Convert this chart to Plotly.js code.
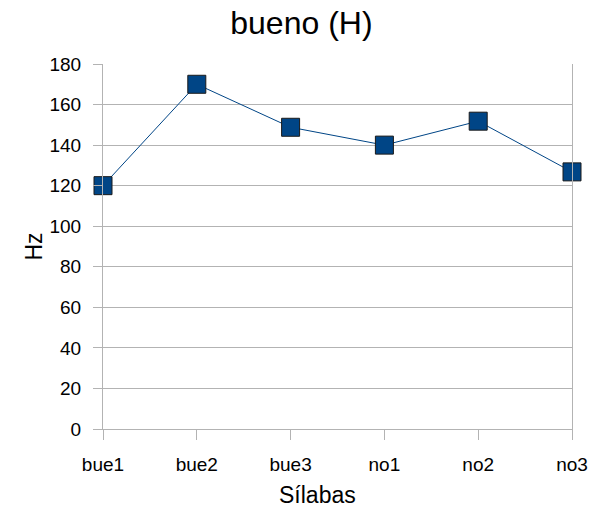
<!DOCTYPE html>
<html><head><meta charset="utf-8">
<script src="https://cdn.plot.ly/plotly-3.0.1.min.js"></script>
<style>body{margin:0;background:#fff}#c{width:591px;height:508px}</style>
</head><body><div id="c"></div>
<script>
const categories = ["bue1","bue2","bue3","no1","no2","no3"];
const hzValues = [120, 170, 148.8, 140, 151.8, 126.8];
const yTicks = [0,20,40,60,80,100,120,140,160,180];
const xTitle = "Sílabas";

const font = "Liberation Sans, Arial, sans-serif";
Plotly.newPlot("c", [{
  x: categories, y: hzValues, type: "scatter", mode: "lines+markers",
  line: {color: "#004586", width: 1},
  marker: {symbol: "square", size: 18, color: "#004586", line: {color: "#1a1a1a", width: 1}},
  cliponaxis: false, hoverinfo: "none"
}], {
  width: 591, height: 508,
  margin: {l: 103, r: 19, t: 64, b: 79},
  paper_bgcolor: "#fff", plot_bgcolor: "#fff",
  showlegend: false,
  font: {family: font, color: "#000"},
  title: {text: "bueno (H)", font: {size: 32, family: font}, x: 0.51, xanchor: "center", y: 0.955, yanchor: "middle"},
  xaxis: {
    type: "category", range: [0, 5], showgrid: false, zeroline: false,
    showline: true, linecolor: "#b3b3b3", linewidth: 1,
    ticks: "outside", ticklen: 10, tickcolor: "#b3b3b3",
    tickfont: {size: 19}, ticklabelstandoff: 8
  },
  yaxis: {
    range: [0, 180], tickvals: yTicks, showgrid: true, gridcolor: "#b3b3b3",
    zeroline: false, showline: true, mirror: true, linecolor: "#b3b3b3", linewidth: 1,
    ticks: "outside", ticklen: 9, tickcolor: "#b3b3b3",
    tickfont: {size: 19}, ticklabelstandoff: 8,
    title: {text: "Hz", font: {size: 23}, standoff: 0}
  },
  annotations: [{
    text: xTitle, xref: "paper", yref: "paper", x: 0.458, y: -0.181,
    xanchor: "center", yanchor: "middle", showarrow: false, font: {size: 23}
  }]
}, {staticPlot: true});
</script></body></html>
